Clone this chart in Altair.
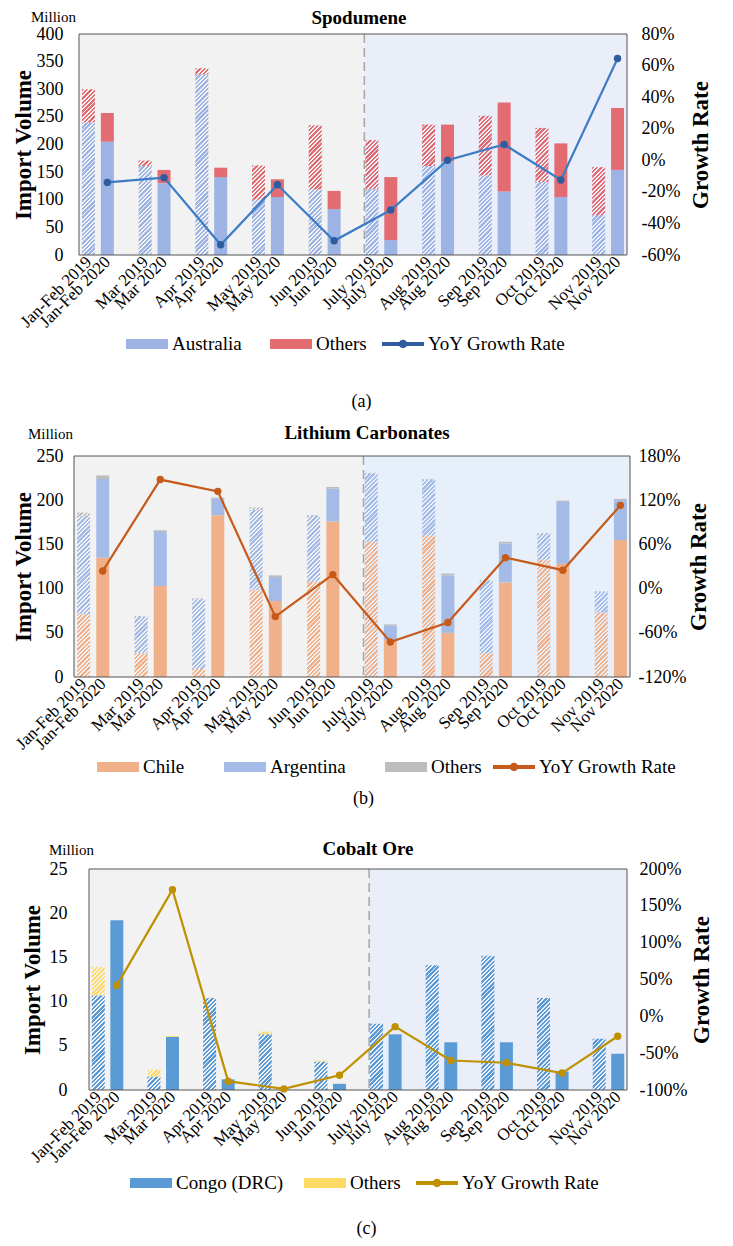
import altair as alt
import pandas as pd

# ---------------- data (million; growth in %) ----------------
months = ["Jan-Feb", "Mar", "Apr", "May", "Jun", "July", "Aug", "Sep", "Oct", "Nov"]

# (a) Spodumene
spod_series = ["Australia", "Others"]
spod_australia_2019 = [240, 161, 327, 100, 119, 119, 161, 144, 132, 72]
spod_others_2019 = [60, 10, 11, 62, 116, 89, 75, 108, 98, 87]
spod_australia_2020 = [205, 130, 141, 105, 83, 27, 170, 115, 105, 154]
spod_others_2020 = [52, 24, 17, 32, 33, 114, 66, 161, 97, 112]
spod_growth = [-14, -11, -53.5, -15.5, -51, -31.5, 0, 10, -12.5, 64.5]

# (b) Lithium Carbonates
lith_series = ["Chile", "Argentina", "Others"]
lith_chile_2019 = [71, 27, 9, 98, 108, 153, 160, 27, 133, 73]
lith_argentina_2019 = [111, 41, 79, 91, 74, 77, 63, 82, 29, 23]
lith_others_2019 = [4, 1, 1, 3, 1, 1, 1, 1, 1, 1]
lith_chile_2020 = [135, 103, 183, 86, 176, 42, 50, 107, 128, 155]
lith_argentina_2020 = [89, 61, 19, 27, 37, 16, 65, 44, 70, 45]
lith_others_2020 = [4, 2, 1, 2, 2, 1.5, 2, 2, 1.5, 1.5]
lith_growth = [24, 148, 132, -38, 19, -72.5, -46, 42, 25, 113]

# (c) Cobalt Ore
cob_series = ["Congo (DRC)", "Others"]
cob_congo_2019 = [10.7, 1.5, 10.4, 6.3, 3.2, 7.5, 14.1, 15.2, 10.4, 5.8]
cob_others_2019 = [3.2, 0.8, 0.05, 0.3, 0.15, 0, 0, 0, 0, 0]
cob_congo_2020 = [19.2, 6.0, 1.2, 0.02, 0.7, 6.3, 5.4, 5.4, 2.1, 4.1]
cob_others_2020 = [0, 0.1, 0, 0, 0, 0, 0, 0, 0, 0]
cob_growth = [42, 172, -88, -98.5, -80, -14, -60, -63, -77, -27]

# ---------------- layout / style constants ----------------
FONT = "Liberation Serif"
PLOT_H = 221
N_SLOTS = 3 * len(months) - 1
X_LO, X_HI = -0.5, N_SLOTS - 0.5
SPLIT = 14.6
BAR_W = 13
HATCH_PERIOD = 4.3
HATCH_COUNT = 58
HATCH_DUTY = 0.55
CLEAR = "rgba(255,255,255,0)"
RECT_PATH = "M-1,-0.24H1V0.24H-1Z"
LINE_DOT_PATH = "M-1,-0.09H1V0.09H-1Z M0,-0.2A0.2,0.2 0 1,1 0,0.2A0.2,0.2 0 1,1 0,-0.2Z"

slot_labels = []
for i, m in enumerate(months):
    slot_labels += [f"{m} 2019", f"{m} 2020"]
    if i < len(months) - 1:
        slot_labels.append("")
label_expr = "[" + ",".join("'" + s + "'" for s in slot_labels) + "][datum.value]"
bar_slots = [k for k, s in enumerate(slot_labels) if s]


def hatch_expr():
    pn = HATCH_PERIOD * HATCH_COUNT
    den = f"({BAR_W * BAR_W}+datum.hp*datum.hp)"
    stops = []
    for k in range(HATCH_COUNT):
        a = k / HATCH_COUNT
        b = (k + HATCH_DUTY) / HATCH_COUNT
        c = (k + 1) / HATCH_COUNT
        stops.append(f"{{offset:{a:.5f},color:datum.hc}}")
        stops.append(f"{{offset:{b:.5f},color:datum.hc}}")
        stops.append(f"{{offset:{b:.5f},color:'{CLEAR}'}}")
        stops.append(f"{{offset:{c:.5f},color:'{CLEAR}'}}")
    return ("{gradient:'linear',x1:0,y1:0,"
            f"x2:{pn * BAR_W:.3f}/{den},y2:{pn:.3f}*datum.hp/{den},"
            "stops:[" + ",".join(stops) + "]}")


def series_color_expr(series, colors):
    expr = f"'{colors[-1]}'"
    for s, c in reversed(list(zip(series[:-1], colors[:-1]))):
        expr = f"(datum.series == '{s}' ? '{c}' : {expr})"
    return expr


def panel(p):
    series, colors = p["series"], p["colors"]
    W = p["width"]
    rows = []
    for si, s in enumerate(series):
        for i in range(len(months)):
            rows.append({"slot": 3 * i, "series": s, "order": si,
                         "value": p["y2019"][si][i], "year": 2019})
            rows.append({"slot": 3 * i + 1, "series": s, "order": si,
                         "value": p["y2020"][si][i], "year": 2020})
    bars_df = pd.DataFrame(rows)
    line_df = pd.DataFrame({"slot": [3 * i + 1 for i in range(len(months))],
                            "growth": p["growth"],
                            "lname": ["YoY Growth Rate"] * len(months)})
    one = pd.DataFrame({"k": [0]})

    xs = alt.Scale(domain=[X_LO, X_HI], nice=False, zero=False)
    x_axis = alt.Axis(values=bar_slots, labelExpr=label_expr, labelAngle=315,
                      labelAlign="right", labelBaseline="middle", labelFontSize=17,
                      labelPadding=4, labelOverlap=False, labelFlush=False,
                      title=p["caption"], titleX=p["cap_x"], titleY=p["cap_y"],
                      titleFontSize=18, titleFontWeight="normal",
                      titleBaseline="middle", titleAlign="center")
    xenc = alt.X("slot:Q", scale=xs, axis=x_axis)

    yl_scale = alt.Scale(domain=[0, p["ymax"]], nice=False)
    yl_axis = alt.Axis(orient="left", values=list(range(0, p["ymax"] + 1, p["ystep"])),
                       title="Import Volume", titleFontSize=23, titleFontWeight="bold",
                       titlePadding=p["ltp"], labelPadding=p["llp"], labelFontSize=18)
    yr_scale = alt.Scale(domain=[p["gmin"], p["gmax"]], nice=False, zero=False)
    yr_axis = alt.Axis(orient="right", values=list(range(p["gmin"], p["gmax"] + 1, p["gstep"])),
                       labelExpr="datum.value + '%'", title="Growth Rate",
                       titleAngle=270, titleBaseline="top", titleFontSize=23,
                       titleFontWeight="bold", titlePadding=p["rtp"],
                       labelPadding=p["rlp"], labelFontSize=18)

    bg_gray = alt.Chart(one).mark_rect(color="#f2f2f2").encode(
        x=alt.X(datum=X_LO, scale=xs, axis=x_axis), x2=alt.X2(datum=SPLIT))
    bg_blue = alt.Chart(one).mark_rect(color=p["bg"]).encode(
        x=alt.X(datum=SPLIT, scale=xs, axis=x_axis), x2=alt.X2(datum=X_HI))
    dash = alt.Chart(one).mark_rule(color="#a6a6a6", strokeDash=[9, 5], strokeWidth=1.5).encode(
        x=alt.X(datum=SPLIT, scale=xs, axis=x_axis))
    border = alt.Chart(one).mark_rect(filled=False, color="#555555", strokeWidth=1).encode(
        x=alt.X(datum=X_LO, scale=xs, axis=x_axis), x2=alt.X2(datum=X_HI))

    stacked = lambda yr: alt.Chart(bars_df).transform_filter(f"datum.year == {yr}").transform_stack(
        stack="value", groupby=["slot"], as_=["v0", "v1"],
        sort=[alt.SortField("order", order="ascending")])

    hatched = stacked(2019).transform_calculate(
        hp=f"(datum.v1 - datum.v0) * {PLOT_H / p['ymax']:.6f}",
        hc=series_color_expr(series, colors),
    ).transform_calculate(grad=hatch_expr()).mark_bar(size=BAR_W).encode(
        x=xenc, y=alt.Y("v1:Q", scale=yl_scale, axis=yl_axis), y2="v0:Q",
        fill=alt.Fill("grad:N", scale=None))

    bar_legend = alt.Legend(orient="none", legendX=p["lgx"], legendY=p["lgy"],
                            direction="horizontal", title=None, symbolType=RECT_PATH,
                            symbolSize=1764, symbolStrokeWidth=0, symbolOpacity=1,
                            labelFontSize=19, labelFont=FONT, labelColor="black",
                            labelOffset=4, columnPadding=p["lcp"], padding=0, labelLimit=300)
    solid = stacked(2020).mark_bar(size=BAR_W).encode(
        x=xenc, y=alt.Y("v1:Q", scale=yl_scale, axis=yl_axis), y2="v0:Q",
        color=alt.Color("series:N", scale=alt.Scale(domain=series, range=colors),
                        legend=bar_legend))

    title_txt = alt.Chart(pd.DataFrame({"t": [p["title"]]})).mark_text(
        font=FONT, fontSize=19, fontWeight="bold", align="center", baseline="middle",
        color="black").encode(x=alt.value(p["tx"]), y=alt.value(p["ty"]), text="t:N")
    mill_txt = alt.Chart(pd.DataFrame({"t": ["Million"]})).mark_text(
        font=FONT, fontSize=15, align="right", baseline="middle", color="black").encode(
        x=alt.value(p["mx"]), y=alt.value(p["my"]), text="t:N")

    line_legend = alt.Legend(orient="none", legendX=p["llx"], legendY=p["lgy"],
                             direction="horizontal", title=None, symbolType=LINE_DOT_PATH,
                             symbolSize=1764, symbolStrokeWidth=0, symbolOpacity=1,
                             labelFontSize=19, labelFont=FONT, labelColor="black",
                             labelOffset=4, padding=0, labelLimit=300)
    line = alt.Chart(line_df).mark_line(color=p["line"], strokeWidth=2.2).encode(
        x=xenc, y=alt.Y("growth:Q", scale=yr_scale, axis=yr_axis))
    points = alt.Chart(line_df).mark_circle(size=55, opacity=1).encode(
        x=xenc, y=alt.Y("growth:Q", scale=yr_scale, axis=yr_axis),
        color=alt.Color("lname:N", scale=alt.Scale(domain=["YoY Growth Rate"], range=[p["dot"]]),
                        legend=line_legend))

    bars_group = alt.layer(bg_gray, bg_blue, dash, hatched, solid, border, title_txt, mill_txt)
    line_group = alt.layer(line, points)
    chart = alt.layer(bars_group, line_group).resolve_scale(
        y="independent", color="independent").properties(width=W, height=PLOT_H)
    # invisible left spacer: sets the horizontal indent of this panel's row
    spacer = alt.Chart(one).mark_text(text=" ", opacity=0).encode(
        x=alt.value(0), y=alt.value(0)).properties(width=p["indent"], height=1)
    return alt.hconcat(spacer, chart, spacing=0)


pa = panel(dict(
    title="Spodumene", caption="(a)", series=spod_series,
    colors=["#9cb3e4", "#e36c73"],
    y2019=[spod_australia_2019, spod_others_2019],
    y2020=[spod_australia_2020, spod_others_2020],
    growth=spod_growth, line="#3c7cc6", dot="#2f5c9e", bg="#e9eef8",
    ymax=400, ystep=50, gmin=-60, gmax=80, gstep=20, width=558,
    llp=11, ltp=1, rlp=9, rtp=10, cap_x=287, cap_y=146, indent=1,
    lgx=52, llx=308, lgy=289, lcp=28, tx=285, ty=-16, mx=2, my=-17))

pb = panel(dict(
    title="Lithium Carbonates", caption="(b)", series=lith_series,
    colors=["#f0b08a", "#a4bbe8", "#bdbdbd"],
    y2019=[lith_chile_2019, lith_argentina_2019, lith_others_2019],
    y2020=[lith_chile_2020, lith_argentina_2020, lith_others_2020],
    growth=lith_growth, line="#c65a1a", dot="#c65a1a", bg="#e7f0fa",
    ymax=250, ystep=50, gmin=-120, gmax=180, gstep=60, width=566,
    llp=6, ltp=1, rlp=3, rtp=2, cap_x=294, cap_y=121, indent=1,
    lgx=28, llx=424, lgy=290, lcp=39, tx=298, ty=-23, mx=4, my=-22))

pc = panel(dict(
    title="Cobalt Ore", caption="(c)", series=cob_series,
    colors=["#5b9bd5", "#ffd966"],
    y2019=[cob_congo_2019, cob_others_2019],
    y2020=[cob_congo_2020, cob_others_2020],
    growth=cob_growth, line="#bf9000", dot="#bf9000", bg="#e9eef8",
    ymax=25, ystep=5, gmin=-100, gmax=200, gstep=50, width=548,
    llp=17, ltp=5, rlp=7, rtp=4, cap_x=282, cap_y=138, indent=10,
    lgx=46, llx=332, lgy=293, lcp=20, tx=284, ty=-20, mx=10, my=-19))

top = alt.vconcat(pa, pb, spacing=12).resolve_scale(
    x="independent", y="independent", color="independent")
chart = alt.vconcat(top, pc, spacing=31).resolve_scale(
    x="independent", y="independent", color="independent"
).properties(padding=0, background="white").configure(font=FONT).configure_view(
    stroke="transparent"
).configure_axis(
    grid=False, ticks=False, domain=False, labelColor="black", titleColor="black",
    labelFont=FONT, titleFont=FONT
)

chart.save("out.html", embed_options={"renderer": "svg", "actions": False})
